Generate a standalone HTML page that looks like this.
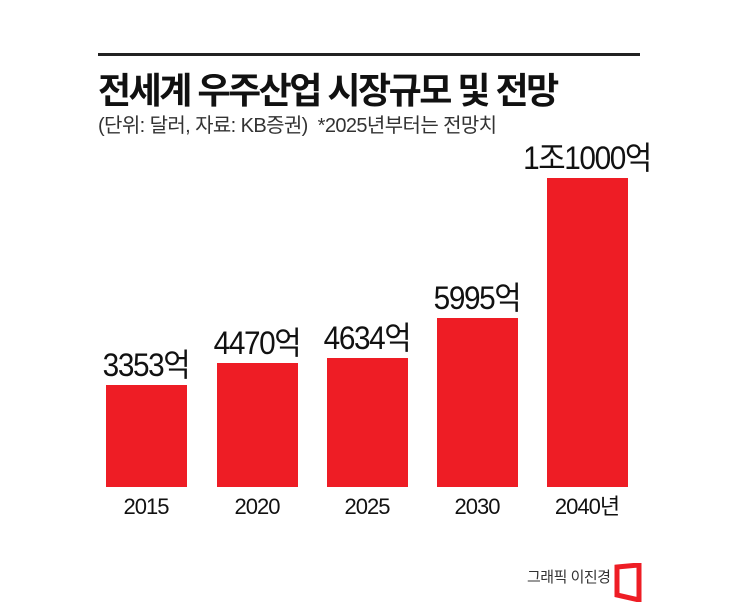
<!DOCTYPE html>
<html><head><meta charset="utf-8"><style>
body{margin:0;width:745px;height:602px;background:#fff;position:relative;overflow:hidden;font-family:"Liberation Sans","Noto Sans CJK KR",sans-serif;color:#111}
.a{position:absolute;white-space:nowrap}
.bar{position:absolute;background:#ee1d25;width:81px}
.v{position:absolute;font-size:32px;line-height:34px;letter-spacing:-1.5px;width:160px;text-align:center;transform:scaleX(0.93)}
.y{position:absolute;font-size:22px;line-height:24px;letter-spacing:-1px;width:120px;text-align:center;top:495px}
</style></head><body>
<div class="a" style="left:98px;top:53px;width:542px;height:3px;background:#222"></div>
<div class="a" style="left:98px;top:62px;font-size:36px;font-weight:bold;letter-spacing:-2.5px">전세계 우주산업 시장규모 및 전망</div>
<div class="a" style="left:98px;top:114px;font-size:20px;line-height:24px;color:#333;letter-spacing:-0.6px">(단위: 달러, 자료: KB증권) &nbsp;*2025년부터는 전망치</div>
<div class="bar" style="left:106px;top:385px;height:102px"></div>
<div class="bar" style="left:217px;top:363px;height:124px"></div>
<div class="bar" style="left:327px;top:358px;height:129px"></div>
<div class="bar" style="left:437px;top:318px;height:169px"></div>
<div class="bar" style="left:547px;top:178px;height:309px"></div>
<div class="v" style="left:66px;top:348px">3353억</div>
<div class="v" style="left:177px;top:326px">4470억</div>
<div class="v" style="left:287px;top:321px">4634억</div>
<div class="v" style="left:397px;top:281px">5995억</div>
<div class="v" style="left:507px;top:141px">1조1000억</div>
<div class="y" style="left:86px">2015</div>
<div class="y" style="left:197px">2020</div>
<div class="y" style="left:307px">2025</div>
<div class="y" style="left:417px">2030</div>
<div class="y" style="left:527px">2040년</div>
<div class="a" style="left:527px;top:566px;font-size:15px;color:#333;letter-spacing:-0.5px">그래픽 이진경</div>
<svg class="a" style="left:614px;top:563px" width="28" height="39"><path d="M3 4 L25 2 L25 37 L3 32 Z" fill="none" stroke="#ee1d25" stroke-width="5"/></svg>
</body></html>
